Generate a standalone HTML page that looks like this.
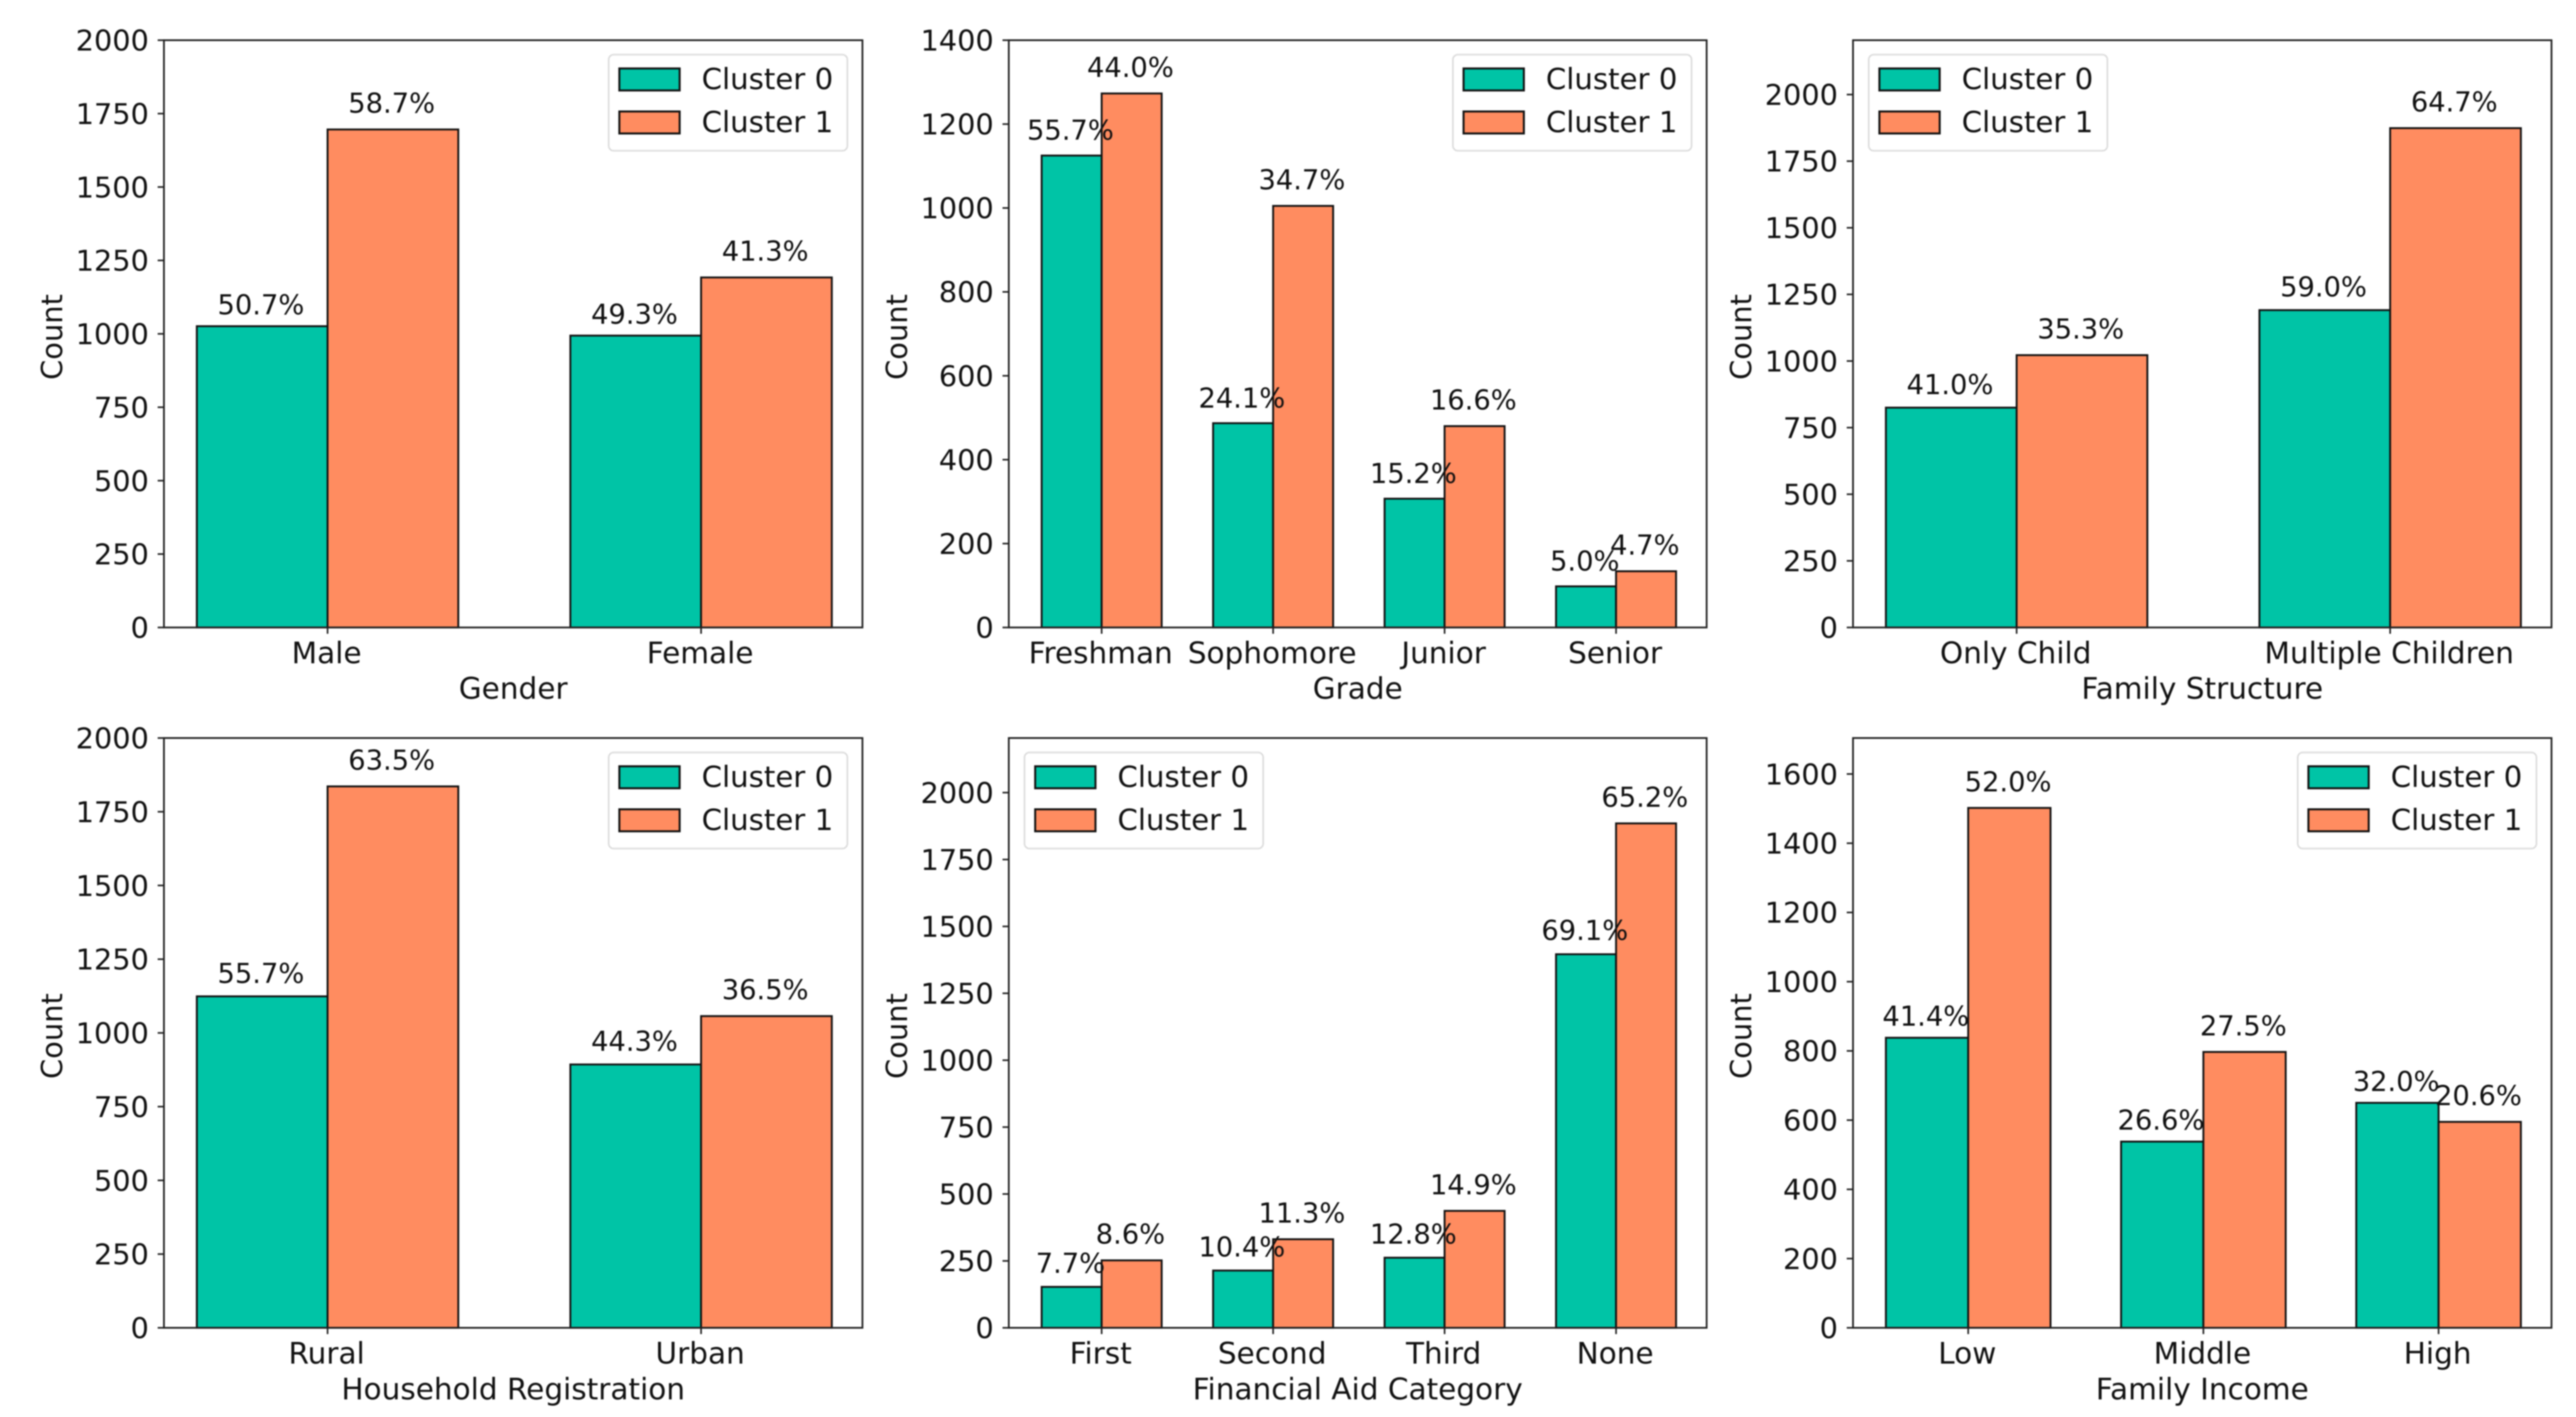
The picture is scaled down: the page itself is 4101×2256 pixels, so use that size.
<!DOCTYPE html>
<html lang="en">
<head>
<meta charset="utf-8">
<title>Cluster comparison bar charts</title>
<style>
html,body{margin:0;padding:0;background:#fff;}
svg{display:block;filter:blur(1px);}
text{font-family:"DejaVu Sans","Liberation Sans",sans-serif;fill:#111;}
</style>
</head>
<body>
<svg id="figure" xmlns="http://www.w3.org/2000/svg" width="4101" height="2256" viewBox="0 0 4101 2256">
<rect x="0" y="0" width="4101" height="2256" fill="#ffffff"></rect>
</svg>
<script>
const genderCategories = ["Male", "Female"];
const genderCluster0 = [1026, 994];
const genderCluster1 = [1696, 1192];
const genderLabels0 = ["50.7%", "49.3%"];
const genderLabels1 = ["58.7%", "41.3%"];
const genderTicks = [0, 250, 500, 750, 1000, 1250, 1500, 1750, 2000];
const genderYMax = 2000;

const gradeCategories = ["Freshman", "Sophomore", "Junior", "Senior"];
const gradeCluster0 = [1125, 487, 307, 98];
const gradeCluster1 = [1273, 1005, 480, 134];
const gradeLabels0 = ["55.7%", "24.1%", "15.2%", "5.0%"];
const gradeLabels1 = ["44.0%", "34.7%", "16.6%", "4.7%"];
const gradeTicks = [0, 200, 400, 600, 800, 1000, 1200, 1400];
const gradeYMax = 1400;

const structureCategories = ["Only Child", "Multiple Children"];
const structureCluster0 = [825, 1191];
const structureCluster1 = [1022, 1874];
const structureLabels0 = ["41.0%", "59.0%"];
const structureLabels1 = ["35.3%", "64.7%"];
const structureTicks = [0, 250, 500, 750, 1000, 1250, 1500, 1750, 2000];
const structureYMax = 2204;

const householdCategories = ["Rural", "Urban"];
const householdCluster0 = [1124, 893];
const householdCluster1 = [1836, 1057];
const householdLabels0 = ["55.7%", "44.3%"];
const householdLabels1 = ["63.5%", "36.5%"];
const householdTicks = [0, 250, 500, 750, 1000, 1250, 1500, 1750, 2000];
const householdYMax = 2000;

const aidCategories = ["First", "Second", "Third", "None"];
const aidCluster0 = [153, 214, 262, 1396];
const aidCluster1 = [252, 331, 437, 1885];
const aidLabels0 = ["7.7%", "10.4%", "12.8%", "69.1%"];
const aidLabels1 = ["8.6%", "11.3%", "14.9%", "65.2%"];
const aidTicks = [0, 250, 500, 750, 1000, 1250, 1500, 1750, 2000];
const aidYMax = 2204;

const incomeCategories = ["Low", "Middle", "High"];
const incomeCluster0 = [838, 538, 650];
const incomeCluster1 = [1502, 797, 595];
const incomeLabels0 = ["41.4%", "26.6%", "32.0%"];
const incomeLabels1 = ["52.0%", "27.5%", "20.6%"];
const incomeTicks = [0, 200, 400, 600, 800, 1000, 1200, 1400, 1600];
const incomeYMax = 1704;

const seriesNames = ["Cluster 0", "Cluster 1"];
const seriesColors = ["#00c4a6", "#ff8c60"];

const BAR_WIDTH = 0.35;
const SVG_NS = "http://www.w3.org/2000/svg";
const figure = document.getElementById("figure");

function make(parent, tag, attrs, content) {
  const node = document.createElementNS(SVG_NS, tag);
  for (const key in attrs) node.setAttribute(key, attrs[key]);
  if (content !== undefined) node.textContent = content;
  parent.appendChild(node);
  return node;
}

function xAxis(count, left, right) {
  const span = (count - 1) + 2 * BAR_WIDTH;
  const margin = span * 0.05;
  const min = -BAR_WIDTH - margin;
  const max = count - 1 + BAR_WIDTH + margin;
  return function (v) { return left + 1.8 + (v - min) / (max - min) * (right - left); };
}

function yAxis(yMax, top, bottom) {
  return function (v) { return bottom - v / yMax * (bottom - top); };
}

function drawPanel(p) {
  const slug = p.slug;
  const g = make(figure, "g", {});
  
  

  const x = xAxis(p.categories.length, p.left, p.right);
  const y = yAxis(p.yMax, p.top, p.bottom);
  const series = [p.cluster0, p.cluster1];
  const labels = [p.labels0, p.labels1];
  const labelGaps = [p.gap0, 26.5];

  series.forEach(function (values, s) {
    values.forEach(function (v, i) {
      const x0 = x(i + (s === 0 ? -BAR_WIDTH : 0));
      const x1 = x(i + (s === 0 ? 0 : BAR_WIDTH));
      const bar = make(g, "rect", {
        x: x0, y: y(v), width: x1 - x0, height: y(0) - y(v),
        fill: seriesColors[s], stroke: "#111", "stroke-width": 3
      });
      
      
    });
  });

  series.forEach(function (values, s) {
    values.forEach(function (v, i) {
      const cx = x(i + (s === 0 ? -BAR_WIDTH / 2 : BAR_WIDTH / 2)) - 2;
      const label = make(g, "text", {
        x: cx, y: y(v) - labelGaps[s], "text-anchor": "middle", "font-size": 43.5
      }, labels[s][i]);
      
      
    });
  });

  p.ticks.forEach(function (t) {
    const tick = make(g, "line", {
      x1: p.left - 10, x2: p.left, y1: y(t), y2: y(t), stroke: "#222", "stroke-width": 2.6
    });
    
    
    const tickLabel = make(g, "text", {
      x: p.left - 24, y: y(t) + 16.5, "text-anchor": "end", "font-size": 45.8
    }, String(t));
    
    
  });

  p.categories.forEach(function (c, i) {
    const tick = make(g, "line", {
      x1: x(i), x2: x(i), y1: p.bottom, y2: p.bottom + 10, stroke: "#222", "stroke-width": 2.6
    });
    
    
    const tickLabel = make(g, "text", {
      x: x(i) - 1.5, y: p.bottom + 57, "text-anchor": "middle", "font-size": 47
    }, c);
    
    
  });

  const frame = make(g, "rect", {
    x: p.left, y: p.top, width: p.right - p.left, height: p.bottom - p.top,
    fill: "none", stroke: "#222", "stroke-width": 2.8
  });
  
  

  const xTitle = make(g, "text", {
    x: (p.left + p.right) / 2, y: p.bottom + p.xTitleGap, "text-anchor": "middle", "font-size": 47
  }, p.xTitle);
  
  

  const cy = (p.top + p.bottom) / 2 + 5;
  const bx = p.left - 162;
  const yTitle = make(g, "text", {
    x: bx, y: cy, "text-anchor": "middle", "font-size": 46,
    transform: "rotate(-90 " + bx + " " + cy + ")"
  }, "Count");
  
  

  const legendW = 380;
  const legendX = p.legendSide === "left" ? p.left + 25 : p.right - 24 - legendW;
  const legendY = p.top + 23;
  const legend = make(g, "g", {});
  
  
  const legendBox = make(legend, "rect", {
    x: legendX, y: legendY, width: legendW, height: 153, rx: 8, ry: 8,
    fill: "#fff", "fill-opacity": 0.85, stroke: "#dcdcdc", "stroke-width": 2.6
  });
  
  
  seriesNames.forEach(function (name, s) {
    const rowY = legendY + 22 + s * 68.5;
    const swatch = make(legend, "rect", {
      x: legendX + 17, y: rowY, width: 96, height: 35,
      fill: seriesColors[s], stroke: "#111", "stroke-width": 3.2
    });
    
    
    const entry = make(legend, "text", {
      x: legendX + 148, y: rowY + 33, "font-size": 46.5
    }, name);
    
    
  });
}

const TOP_ROW = { top: 64, bottom: 999, xTitleGap: 113.5 };
const BOTTOM_ROW = { top: 1175, bottom: 2114, xTitleGap: 114 };
const COL_1 = { left: 261, right: 1373 };
const COL_2 = { left: 1606, right: 2717 };
const COL_3 = { left: 2950, right: 4062 };

function panel(slug, xTitle, categories, cluster0, cluster1, labels0, labels1, ticks, yMax, row, col, legendSide, gap0) {
  return { slug: slug, xTitle: xTitle, categories: categories, cluster0: cluster0, cluster1: cluster1,
    labels0: labels0, labels1: labels1, ticks: ticks, yMax: yMax,
    top: row.top, bottom: row.bottom, xTitleGap: row.xTitleGap, left: col.left, right: col.right, legendSide: legendSide, gap0: gap0 };
}

drawPanel(panel("gender", "Gender", genderCategories, genderCluster0, genderCluster1, genderLabels0, genderLabels1, genderTicks, genderYMax, TOP_ROW, COL_1, "right", 19));
drawPanel(panel("grade", "Grade", gradeCategories, gradeCluster0, gradeCluster1, gradeLabels0, gradeLabels1, gradeTicks, gradeYMax, TOP_ROW, COL_2, "right", 25));
drawPanel(panel("family-structure", "Family Structure", structureCategories, structureCluster0, structureCluster1, structureLabels0, structureLabels1, structureTicks, structureYMax, TOP_ROW, COL_3, "left", 21.5));
drawPanel(panel("household-registration", "Household Registration", householdCategories, householdCluster0, householdCluster1, householdLabels0, householdLabels1, householdTicks, householdYMax, BOTTOM_ROW, COL_1, "right", 21.5));
drawPanel(panel("financial-aid", "Financial Aid Category", aidCategories, aidCluster0, aidCluster1, aidLabels0, aidLabels1, aidTicks, aidYMax, BOTTOM_ROW, COL_2, "left", 22.5));
drawPanel(panel("family-income", "Family Income", incomeCategories, incomeCluster0, incomeCluster1, incomeLabels0, incomeLabels1, incomeTicks, incomeYMax, BOTTOM_ROW, COL_3, "right", 19));
</script>
</body>
</html>
